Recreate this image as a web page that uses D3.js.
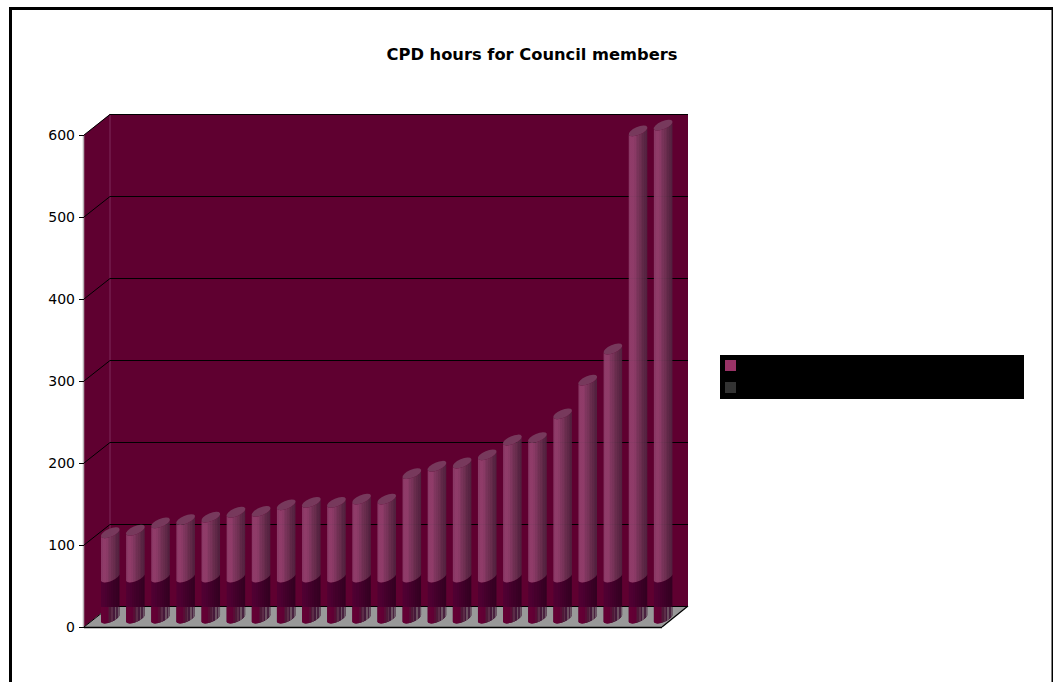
<!DOCTYPE html>
<html>
<head>
<meta charset="utf-8">
<script src="https://cdnjs.cloudflare.com/ajax/libs/d3/7.8.5/d3.min.js"></script>
<style>
html,body{margin:0;padding:0;background:#fff;overflow:hidden}
svg{display:block}
text{font-family:"DejaVu Sans",sans-serif}
</style>
</head>
<body>
<svg id="chart" width="1053" height="682"></svg>
<script>
// CPD hours per council member, stacked: a common base plus the remainder
const members = ["M01","M02","M03","M04","M05","M06","M07","M08","M09","M10","M11","M12",
                 "M13","M14","M15","M16","M17","M18","M19","M20","M21","M22","M23"];
const baseHours  = [50,50,50,50,50,50,50,50,50,50,50,50,50,50,50,50,50,50,50,50,50,50,50];
const extraHours = [54,57,66,70,73,79,80,88,91,91,95,95,126,135,139,149,167,170,199,240,278,544,551];
const yTicks = [0,100,200,300,400,500,600];
const chartTitle = "CPD hours for Council members";
const legendColors = ["#993366","#333333"];

const svg = d3.select("#chart");
const defs = svg.append("defs");

// Plot frame: front plane of the 3D box, and the offset to its back plane
const frontLeft = 84, frontRight = 662, depthX = 26, depthY = 21;
const x = d3.scaleBand().domain(members).range([frontLeft, frontRight]);
const y = d3.scaleLinear().domain([0, 600]).range([627, 135]);

// Page border
svg.append("rect").attr("x", 10.5).attr("y", 8.5).attr("width", 1042.5).attr("height", 690)
  .attr("fill", "#fff").attr("stroke", "#000").attr("stroke-width", 3);

svg.append("text").attr("x", 532).attr("y", 59.5).attr("text-anchor", "middle")
  .attr("font-size", 16.3).attr("font-weight", 700).attr("fill", "#000").text(chartTitle);

const wallColor = "#5f0030";
const box = svg.append("g");
const plotTop = y(600), plotBottom = y(0);

// Back wall, side wall and floor
box.append("polygon").attr("fill", wallColor)
  .attr("points", [[frontLeft + depthX, plotTop - depthY], [frontRight + depthX, plotTop - depthY],
                   [frontRight + depthX, plotBottom - depthY], [frontLeft + depthX, plotBottom - depthY]].join(" "));
box.append("polygon").attr("fill", wallColor)
  .attr("points", [[frontLeft, plotTop], [frontLeft + depthX, plotTop - depthY],
                   [frontLeft + depthX, plotBottom - depthY], [frontLeft, plotBottom]].join(" "));
box.append("polygon").attr("fill", "#999999")
  .attr("points", [[frontLeft, plotBottom], [frontLeft + depthX, plotBottom - depthY],
                   [frontRight + depthX, plotBottom - depthY], [frontRight, plotBottom]].join(" "));

// Wall edges
box.append("line").attr("x1", frontLeft - 0.5).attr("x2", frontLeft - 0.5).attr("y1", plotTop).attr("y2", plotBottom)
  .attr("stroke", "#b9b0b5").attr("stroke-width", 1.5);
box.append("line").attr("x1", frontLeft + depthX).attr("x2", frontLeft + depthX)
  .attr("y1", plotTop - depthY).attr("y2", plotBottom - depthY).attr("stroke", "#7f2a5a");

// Gridlines run across the side wall and along the back wall
const grid = box.append("g").attr("fill", "none").attr("stroke", "#000").attr("stroke-width", 1);
grid.selectAll("path").data(yTicks).join("path")
  .attr("d", t => `M${frontLeft},${y(t)}L${frontLeft + depthX},${y(t) - depthY + 0.5}H${frontRight + depthX}`);
box.append("line").attr("x1", frontLeft).attr("x2", frontRight).attr("y1", plotBottom + 0.5).attr("y2", plotBottom + 0.5)
  .attr("stroke", "#000").attr("stroke-width", 1.5);
box.append("line").attr("x1", frontRight).attr("x2", frontRight + depthX)
  .attr("y1", plotBottom).attr("y2", plotBottom - depthY).attr("stroke", "#000").attr("stroke-width", 1.2);

// Horizontal shading across each cylinder, in flat steps
function shading(id, stops) {
  const g = defs.append("linearGradient").attr("id", id)
    .attr("x1", 0).attr("x2", 1).attr("y1", 0).attr("y2", 0);
  stops.forEach((c, i) => {
    g.append("stop").attr("offset", i / stops.length).attr("stop-color", c);
    g.append("stop").attr("offset", (i + 1) / stops.length).attr("stop-color", c);
  });
}
shading("upperFace", ["#8d3d69","#93406d","#93406d","#8d3e69","#823a62","#7a375c","#713355","#69304f","#602b49","#582744","#522440"]);
shading("lowerFace", ["#500032","#4e0031","#4a0030","#46002c","#42002a","#3e0028","#3a0025","#370023","#340021"]);
shading("lowerOnFloor", ["#640034","#640034","#620034","#600034","#5a0c36","#4e1a38","#5c2c48","#46183a","#6c5060","#4a2240","#6a5464"]);

// Cylinder outline pieces: width, tilt of the elliptical ends, minor radius
const barW = 18.5, tilt = 8, minor = 4;
const major = Math.hypot(barW, tilt) / 2;
const angle = -Math.atan2(tilt, barW) * 180 / Math.PI;
const leftX = m => x(m) + x.bandwidth() / 2 + depthX / 2 - barW / 2 + 0.7;
const baseLift = 5;   // the base of each bar stands this far behind the front edge

function face(m, from, to) {
  const x0 = leftX(m), x1 = x0 + barW;
  const yA = y(from) - baseLift, yB = y(to) - baseLift;
  return `M${x0},${yB}` + `L${x0},${yA}` +
    `A${major},${minor} ${angle} 0 0 ${x1},${yA - tilt}` +
    `L${x1},${yB - tilt}` +
    `A${major},${minor} ${angle} 0 1 ${x0},${yB}Z`;
}
function cap(m, at) {
  const x0 = leftX(m), x1 = x0 + barW, yB = y(at) - baseLift;
  return `M${x0},${yB}A${major},${minor} ${angle} 1 1 ${x1},${yB - tilt}` +
         `A${major},${minor} ${angle} 1 1 ${x0},${yB}Z`;
}

const floorClip = defs.append("clipPath").attr("id", "floorBand");
floorClip.append("rect").attr("x", 0).attr("y", plotBottom - depthY + 1).attr("width", 1053).attr("height", 60);

const rows = members.map((m, i) => ({ m, base: baseHours[i], total: baseHours[i] + extraHours[i] }));
const bars = svg.append("g").selectAll("g").data(rows).join("g");
bars.append("path").attr("fill", "url(#lowerFace)").attr("d", d => face(d.m, 0, d.base));
bars.append("path").attr("fill", "url(#lowerOnFloor)").attr("clip-path", "url(#floorBand)")
  .attr("d", d => face(d.m, 0, d.base));
bars.append("path").attr("fill", "url(#upperFace)").attr("fill-opacity", 0.93)
  .attr("d", d => face(d.m, d.base, d.total));
bars.append("path").attr("fill", "#77395c").attr("d", d => cap(d.m, d.total));

// Value axis: tick marks on the front plane
const axis = svg.append("g").attr("transform", `translate(${frontLeft},0)`)
  .call(d3.axisLeft(y).tickValues(yTicks).tickSize(5).tickPadding(4).tickFormat(d3.format("d")));
axis.select(".domain").remove();
axis.selectAll("text").attr("font-size", 14).attr("fill", "#000").style("font-family", '"DejaVu Sans",sans-serif');
axis.selectAll("line").attr("stroke", "#000");

// Legend block with one swatch per series
const legend = svg.append("g");
legend.append("rect").attr("x", 720).attr("y", 355).attr("width", 304).attr("height", 44).attr("fill", "#000");
legend.selectAll(".swatch").data(legendColors).join("rect").attr("class", "swatch")
  .attr("x", 725).attr("y", (d, i) => 360 + i * 22).attr("width", 11).attr("height", 11).attr("fill", d => d);
</script>
</body>
</html>
